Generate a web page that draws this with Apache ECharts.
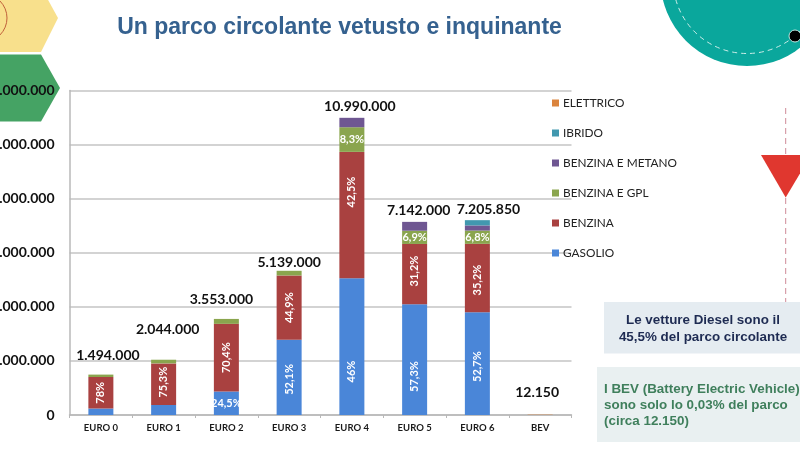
<!DOCTYPE html>
<html>
<head>
<meta charset="utf-8">
<script src="https://cdn.jsdelivr.net/npm/echarts@6/dist/echarts.min.js"></script>
<style>html,body{margin:0;padding:0;background:#fff}#c{width:800px;height:450px}</style>
</head>
<body>
<div id="c"></div>
<script>
const categories = ["EURO 0","EURO 1","EURO 2","EURO 3","EURO 4","EURO 5","EURO 6","BEV"];
const gasolio        = [240000, 370000, 870000, 2780000, 5060000, 4100000, 3800000, 0];
const benzina        = [1165000, 1539000, 2501000, 2380000, 4670000, 2225000, 2530000, 0];
const benzinaGpl     = [89000, 135000, 182000, 173000, 912000, 490000, 490000, 0];
const benzinaMetano  = [0, 0, 0, 0, 348000, 327000, 190000, 0];
const ibrido         = [0, 0, 0, 0, 0, 0, 195000, 0];
const elettrico      = [0, 0, 0, 0, 0, 0, 0, 12150];
const totalLabels    = ["1.494.000","2.044.000","3.553.000","5.139.000","10.990.000","7.142.000","7.205.850","12.150"];
const gasolioPct     = [null, null, "24,5%", "52,1%", "46%", "57,3%", "52,7%", null];
const benzinaPct     = ["78%", "75,3%", "70,4%", "44,9%", "42,5%", "31,2%", "35,2%", null];
const gplPct         = [null, null, null, null, "8,3%", "6,9%", "6,8%", null];
const yTickLabels    = ["0","2.000.000","4.000.000","6.000.000","8.000.000","10.000.000","12.000.000"];
const legendOrder    = ["ELETTRICO","IBRIDO","BENZINA E METANO","BENZINA E GPL","BENZINA","GASOLIO"];

const horizontalPct = ["24,5%","8,3%","6,9%","6,8%"];
const pctNudge = {"46%":25,"57,3%":17,"42,5%":-23,"52,1%":2,"52,7%":3,"31,2%":-3,"35,2%":2,"75,3%":-2};
const totalNudge = [[7,-7],[4,-18],[-5,-7],[0,4],[8,1],[4,1],[11,2],[-3,-10]];
const sans = "Lato, 'Open Sans', sans-serif";

function items(values, pcts){
  return values.map((v,i)=>{
    const t = pcts && pcts[i];
    if(!t) return {value:v, label:{show:false}};
    const horiz = horizontalPct.includes(t);
    const d = pctNudge[t]||0;
    return {value:v, label:{show:true, formatter:t, position:'inside',
      rotate: horiz ? 0 : 90,
      offset: horiz ? [0,d] : [-d,0]}};
  });
}
function bar(name, values, color, pcts){
  return {name, type:'bar', stack:'parco', barWidth:25, data:items(values,pcts),
    itemStyle:{color}, z:3,
    label:{color:'#fff', fontFamily:sans, fontWeight:'bold', fontSize:11}};
}
const tops = categories.map((_,i)=>gasolio[i]+benzina[i]+benzinaGpl[i]+benzinaMetano[i]+ibrido[i]+elettrico[i]);

const option = {
  animation:false,
  backgroundColor:'#fff',
  grid:{left:69.5, right:228.5, top:90.5, bottom:35, containLabel:false, outerBoundsMode:'none'},
  legend:{
    data:legendOrder, orient:'vertical', left:552, top:96, padding:0, itemWidth:7, itemHeight:7,
    itemGap:16, icon:'rect', selectedMode:false,
    textStyle:{fontFamily:sans, fontSize:11.8, lineHeight:14, color:'#222', padding:[0,0,0,-1]}
  },
  xAxis:{
    type:'category', data:categories,
    axisLine:{lineStyle:{color:'#b8b8b8', width:1.5}},
    axisTick:{show:true, length:3, lineStyle:{color:'#b8b8b8'}},
    axisLabel:{color:'#1a1a1a', fontFamily:sans, fontWeight:'bold', fontSize:9.5, margin:8, interval:0}
  },
  yAxis:{
    type:'value', min:0, max:12000000, interval:2000000,
    axisLine:{show:true, lineStyle:{color:'#b8b8b8', width:1.5}},
    axisTick:{show:false},
    splitLine:{lineStyle:{color:'#c4c4c4', width:1.5}},
    axisLabel:{color:'#111', fontFamily:sans, fontWeight:'bold', fontSize:14, margin:15,
      formatter:(v)=>yTickLabels[Math.round(v/2000000)]}
  },
  series:[
    bar('GASOLIO', gasolio, '#4a86d8', gasolioPct),
    bar('BENZINA', benzina, '#a94140', benzinaPct),
    bar('BENZINA E GPL', benzinaGpl, '#8aa54e', gplPct),
    bar('BENZINA E METANO', benzinaMetano, '#6f5792'),
    bar('IBRIDO', ibrido, '#4198af'),
    bar('ELETTRICO', elettrico, '#db843d'),
    {name:'Totale', type:'line', data:tops, symbol:'circle', symbolSize:1, showSymbol:true,
      itemStyle:{color:'rgba(0,0,0,0)'}, lineStyle:{width:0, color:'rgba(0,0,0,0)'}, z:5,
      label:{show:true, position:'top', color:'#111', fontFamily:sans, fontWeight:'bold', fontSize:14,
        formatter:(p)=>totalLabels[p.dataIndex]},
      labelLayout:(p)=>({dx:totalNudge[p.dataIndex][0], dy:totalNudge[p.dataIndex][1]})}
  ],
  graphic:{elements:[
    {type:'polygon', z:-5, shape:{points:[[0,-2],[47,-2],[58,18],[41,52],[0,52]]}, style:{fill:'#f8e08c'}},
    {type:'circle', z:-4, shape:{cx:-17,cy:18,r:24}, style:{fill:'none',stroke:'#c0603a',lineWidth:1}},
    {type:'polygon', z:-5, shape:{points:[[0,54.5],[41,54.5],[60,88],[41,121.5],[0,121.5]]}, style:{fill:'#45a364'}},
    {type:'circle', z:-5, shape:{cx:747,cy:-20.5,r:86.5}, style:{fill:'#0aa79c'}},
    {type:'circle', z:-4, shape:{cx:747,cy:-20.5,r:74}, style:{fill:'none',stroke:'#cdeee9',lineWidth:1,lineDash:[5,4]}},
    {type:'circle', z:-3, shape:{cx:795,cy:36,r:6}, style:{fill:'#000',stroke:'#bfe6e0',lineWidth:1}},
    {type:'line', z:-5, shape:{x1:785.7,y1:108,x2:785.7,y2:302}, style:{stroke:'#cf8a98',lineWidth:1,lineDash:[6,4]}},
    {type:'polygon', z:-4, shape:{points:[[761,155],[811,155],[785.7,197.5]]}, style:{fill:'#e0372f'}},
    {type:'rect', z:-5, shape:{x:604,y:302,width:196,height:51.5}, style:{fill:'#e5ecf1'}},
    {type:'rect', z:-5, shape:{x:597,y:367,width:203,height:75}, style:{fill:'#e9f0f1'}},
    {type:'text', z:10, x:703, y:328.5, style:{text:'Le vetture Diesel sono il\n45,5% del parco circolante', textAlign:'center', textVerticalAlign:'middle',
      fill:'#1e2b52', font:"bold 13.4px 'Liberation Sans', Arial, sans-serif", lineHeight:17}},
    {type:'text', z:10, x:604, y:405, style:{text:'I BEV (Battery Electric Vehicle)\nsono solo lo 0,03% del parco\n(circa 12.150)', textAlign:'left', textVerticalAlign:'middle',
      fill:'#3f7f5c', font:"bold 13.4px 'Liberation Sans', Arial, sans-serif", lineHeight:16}},
    {type:'text', z:10, x:339.5, y:28, style:{text:'Un parco circolante vetusto e inquinante', textAlign:'center', textVerticalAlign:'middle',
      fill:'#35618f', font:"bold 23px 'Liberation Sans', Arial, sans-serif"}}
  ]}
};
echarts.init(document.getElementById('c')).setOption(option);
</script>
</body>
</html>
